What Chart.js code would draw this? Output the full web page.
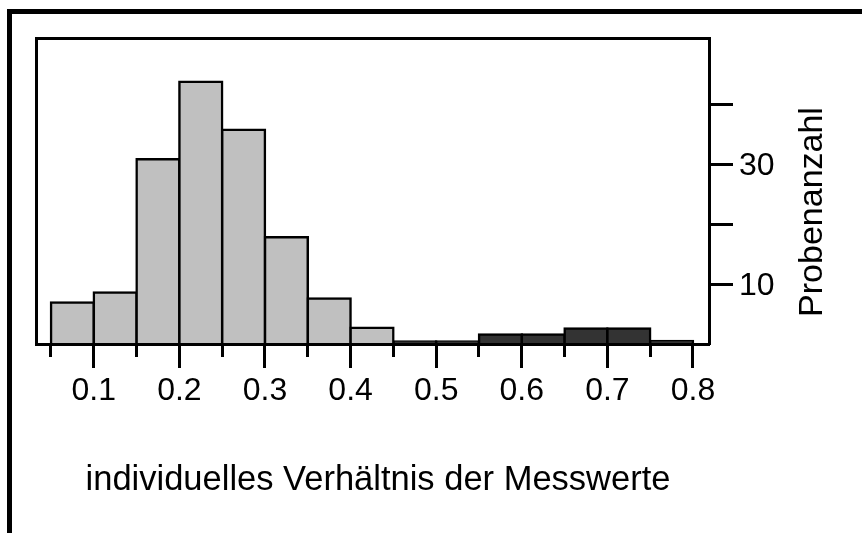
<!DOCTYPE html>
<html>
<head>
<meta charset="utf-8">
<script src="https://cdn.jsdelivr.net/npm/chart.js@4.4.1/dist/chart.umd.min.js"></script>
<style>
  html, body { margin: 0; padding: 0; background: #fff; overflow: hidden; }
  #wrap { position: relative; width: 862px; height: 533px; }
  #frame { position: absolute; left: 7px; top: 9px; right: -20px; bottom: -20px;
           border-top: 5px solid #000; border-left: 5px solid #000; }
  #chart { position: absolute; left: 0; top: 0; }
</style>
</head>
<body>
<div id="wrap">
  <div id="frame"></div>
  <canvas id="chart" width="862" height="533"></canvas>
</div>
<script>
'use strict';

// histogram bins (left edge of each 0.05 bin)
const lightBins = [0.05, 0.10, 0.15, 0.20, 0.25, 0.30, 0.35, 0.40],
  lightCounts = [6.9, 8.6, 30.8, 43.7, 35.7, 17.8, 7.6, 2.7],
  darkBins = [0.45, 0.50, 0.55, 0.60, 0.65, 0.70, 0.75],
  darkCounts = [0.4, 0.4, 1.6, 1.6, 2.6, 2.6, 0.5];

const binWidth = 0.05;

const xTickValues = [0.05, 0.1, 0.15, 0.2, 0.25, 0.3, 0.35, 0.4, 0.45, 0.5, 0.55, 0.6, 0.65, 0.7, 0.75, 0.8],
  xTickLabels = ['', '0.1', '', '0.2', '', '0.3', '', '0.4', '', '0.5', '', '0.6', '', '0.7', '', '0.8'],
  yTickValues = [10, 20, 30, 40],
  yTickLabelled = [10, 30];

const xTitle = 'individuelles Verhältnis der Messwerte',
  yTitle = 'Probenanzahl';

const FONT = '"Liberation Sans", Arial, sans-serif';

const toPoints = (bins, counts) => bins.map((b, i) => ({ x: b + binWidth / 2, y: counts[i] }));

const barStyle = {
  borderColor: '#000',
  borderWidth: { top: 2.5, left: 2.5, right: 2.5, bottom: 0 },
  borderSkipped: 'start',
  inflateAmount: 1.25,
  barPercentage: 1,
  categoryPercentage: 1,
  grouped: false,
  xAxisID: 'x',
  yAxisID: 'y'
};

// titles drawn by hand: the side one reads bottom to top
const axisTitles = {
  id: 'axisTitles',
  afterDraw(chart) {
    const { ctx, chartArea } = chart;
    ctx.save();
    ctx.fillStyle = '#000';
    ctx.textAlign = 'center';
    ctx.textBaseline = 'alphabetic';
    ctx.font = '34.5px ' + FONT;
    ctx.fillText(xTitle, chartArea.left + 342, chartArea.bottom + 146);

    ctx.translate(chartArea.right + 104, chartArea.top + 174);
    ctx.rotate(-Math.PI / 2);
    ctx.font = '34px ' + FONT;
    ctx.textBaseline = 'middle';
    ctx.fillText(yTitle, 0, 0);
    ctx.restore();
  }
};

const ctx = document.getElementById('chart').getContext('2d');

new Chart(ctx, {
  type: 'bar',
  data: {
    datasets: [
      Object.assign({ label: 'hell', data: toPoints(lightBins, lightCounts), backgroundColor: '#c0c0c0' }, barStyle),
      Object.assign({ label: 'dunkel', data: toPoints(darkBins, darkCounts), backgroundColor: '#333333' }, barStyle)
    ]
  },
  options: {
    responsive: false,
    animation: false,
    layout: { padding: { left: 36, top: 38, right: 0, bottom: 0 } },
    plugins: { legend: { display: false }, tooltip: { enabled: false } },
    scales: {
      x: {
        type: 'linear',
        position: 'bottom',
        min: 0.0325,
        max: 0.8187,
        offset: false,
        afterBuildTicks: s => { s.ticks = xTickValues.map(v => ({ value: v })); },
        afterFit: s => { s.height = 189; },
        grid: {
          offset: false,
          drawOnChartArea: false,
          tickLength: 24,
          tickWidth: 3,
          tickColor: '#000',
          tickBorderDash: c => (xTickLabels[c.index] ? [] : [11, 100])
        },
        border: { color: '#000', width: 3, z: 1 },
        ticks: {
          autoSkip: false,
          maxRotation: 0,
          padding: 4,
          color: '#000',
          font: { family: FONT, size: 32 },
          callback: (v, i) => xTickLabels[i]
        }
      },
      y: {
        type: 'linear',
        position: 'right',
        min: 0,
        max: 51,
        afterBuildTicks: s => { s.ticks = yTickValues.map(v => ({ value: v })); },
        afterFit: s => { s.width = 153; },
        grid: {
          drawOnChartArea: false,
          tickLength: 24,
          tickWidth: 3,
          tickColor: '#000'
        },
        border: { color: '#000', width: 3, z: 1 },
        ticks: {
          padding: 6,
          labelOffset: 2,
          color: '#000',
          font: { family: FONT, size: 32 },
          callback: v => (yTickLabelled.includes(v) ? String(v) : '')
        }
      },
      xTop: {
        type: 'linear',
        position: 'top',
        display: true,
        grid: { display: false, drawTicks: false },
        ticks: { display: false },
        border: { color: '#000', width: 3 }
      },
      yLeft: {
        type: 'linear',
        position: 'left',
        display: true,
        grid: { display: false, drawTicks: false },
        ticks: { display: false },
        border: { color: '#000', width: 3 }
      }
    }
  },
  plugins: [axisTitles]
});
</script>
</body>
</html>
